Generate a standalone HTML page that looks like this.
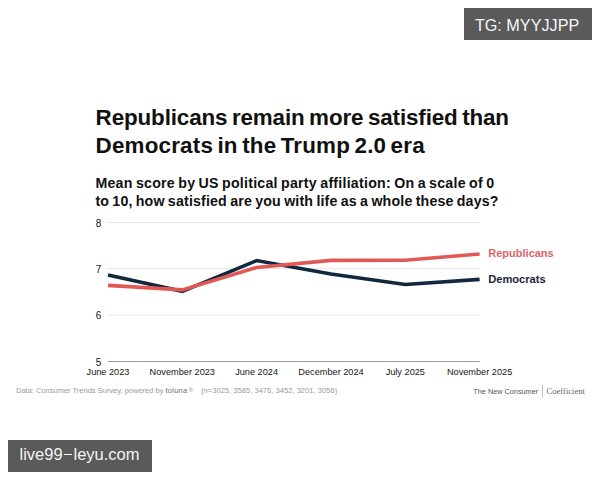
<!DOCTYPE html>
<html><head><meta charset="utf-8">
<style>
html,body{margin:0;padding:0;}
body{width:600px;height:480px;background:#fff;position:relative;overflow:hidden;font-family:"Liberation Sans",sans-serif;}
.a{position:absolute;white-space:nowrap;line-height:1;}
.title{font-weight:bold;font-size:22.4px;color:#111;}
.sub{font-weight:bold;font-size:14.2px;color:#111;}
.ytick{font-size:10px;color:#151515;}
.xtick{font-size:9.2px;color:#151515;transform:translateX(-50%);}
.foot{font-size:7.5px;color:#9a9a9a;}
.wm{background:#5a5a5a;color:#f2f2f2;}
</style></head>
<body>
<div class="a wm" style="left:464px;top:8px;width:128px;height:31.5px;"></div>
<div class="a" style="left:474.9px;top:17.3px;font-size:16.2px;color:#f6f6f6;letter-spacing:0px;">TG: MYYJJPP</div>

<div class="a title" style="left:95.6px;top:107.3px;letter-spacing:-0.12px;word-spacing:-1.6px;">Republicans remain more satisfied than</div>
<div class="a title" style="left:95.6px;top:135.4px;letter-spacing:0.19px;word-spacing:-2px;">Democrats in the Trump 2.0 era</div>

<div class="a sub" style="left:95.4px;top:175.5px;letter-spacing:0.24px;word-spacing:-0.9px;">Mean score by US political party affiliation: On a scale of 0</div>
<div class="a sub" style="left:95.4px;top:193.8px;letter-spacing:0.17px;word-spacing:-0.9px;">to 10, how satisfied are you with life as a whole these days?</div>

<svg class="a" style="left:0;top:0" width="600" height="480" viewBox="0 0 600 480">
  <g stroke="#e9e9e9" stroke-width="1">
    <line x1="108" y1="222.5" x2="480" y2="222.5"/>
    <line x1="108" y1="268.5" x2="480" y2="268.5"/>
    <line x1="108" y1="315" x2="480" y2="315"/>
  </g>
  <line x1="108" y1="361.5" x2="480" y2="361.5" stroke="#9a9a9a" stroke-width="1"/>
  <polyline fill="none" stroke="#12283f" stroke-width="3.6" stroke-linejoin="miter"
    points="108,275 182.3,291.3 256.6,260.6 331,274 405.3,284.5 479.6,279.4"/>
  <polyline fill="none" stroke="#e15955" stroke-width="3.6" stroke-linejoin="miter"
    points="108,285.4 182.3,289.9 256.6,267.5 331,260.4 405.3,260.3 479.6,254"/>
</svg>

<div class="a ytick" style="left:95.8px;top:218.8px;">8</div>
<div class="a ytick" style="left:95.8px;top:264.9px;">7</div>
<div class="a ytick" style="left:95.8px;top:311.4px;">6</div>
<div class="a ytick" style="left:95.8px;top:357.9px;">5</div>

<div class="a xtick" style="left:108px;top:368.4px;">June 2023</div>
<div class="a xtick" style="left:182.3px;top:368.4px;">November 2023</div>
<div class="a xtick" style="left:256.6px;top:368.4px;">June 2024</div>
<div class="a xtick" style="left:331px;top:368.4px;">December 2024</div>
<div class="a xtick" style="left:405.3px;top:368.4px;">July 2025</div>
<div class="a xtick" style="left:479.6px;top:368.4px;">November 2025</div>

<div class="a" style="left:488.3px;top:248.3px;font-weight:bold;font-size:11px;color:#dc6464;">Republicans</div>
<div class="a" style="left:488.3px;top:273.9px;font-weight:bold;font-size:11.1px;color:#18263a;">Democrats</div>

<div class="a foot" style="left:16px;top:386.6px;">Data: Consumer Trends Survey, powered by <span style="color:#6e6e6e;letter-spacing:0.25px;">toluna</span><span style="font-size:6px;vertical-align:1px;margin-left:1px;color:#888">®</span></div>
<div class="a foot" style="left:201px;top:387.4px;font-size:7.6px;">(n=3025, 3585, 3476, 3452, 3201, 3056)</div>
<div class="a foot" style="left:473.3px;top:387.5px;color:#555;font-size:7.3px;letter-spacing:0px;">The New Consumer</div>
<div class="a" style="left:542px;top:385px;width:1px;height:11.5px;background:#bbb;"></div>
<div class="a" style="left:546.5px;top:386.8px;font-family:'Liberation Serif',serif;font-size:8.6px;color:#666;letter-spacing:0px;">Coefficient</div>

<div class="a wm" style="left:8px;top:440px;width:144px;height:32px;"></div>
<div class="a" style="left:19.5px;top:445.9px;font-size:16.5px;color:#f4f4f4;">live99<span style="display:inline-block;width:7.5px;height:1.2px;background:#f4f4f4;vertical-align:4.5px;margin:0 1.6px 0 1.8px;"></span>leyu.com</div>
</body></html>
